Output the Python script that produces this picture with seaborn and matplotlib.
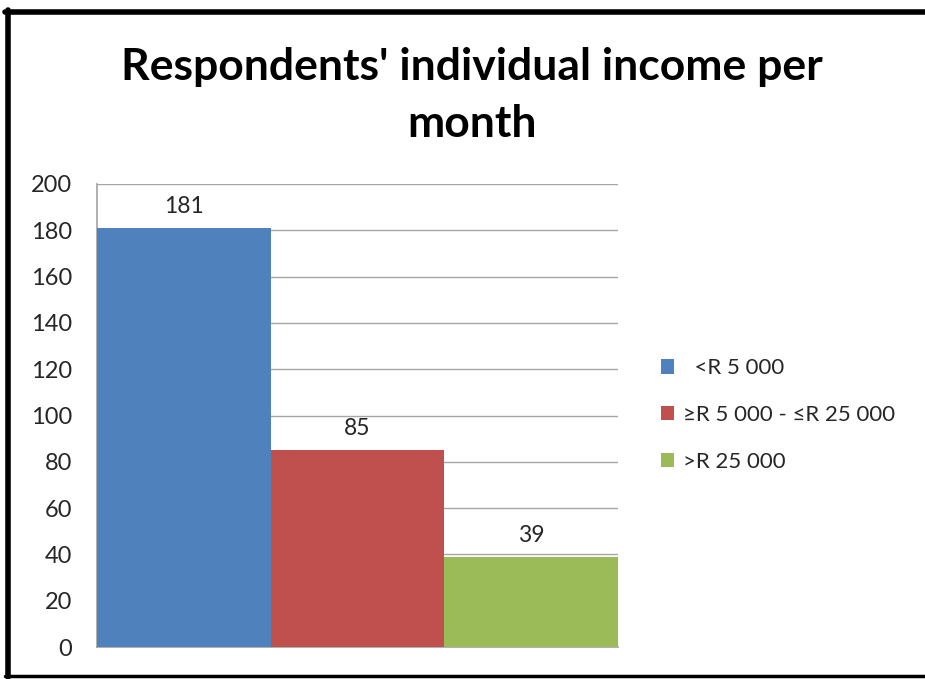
import matplotlib
matplotlib.use("Agg")
import matplotlib.pyplot as plt
from matplotlib.lines import Line2D
from matplotlib.patches import Patch
import seaborn as sns
import pandas as pd

categories = ["<R 5 000", "\u2265R 5 000 - \u2264R 25 000", ">R 25 000"]
counts = [181, 85, 39]
colors = ["#4F81BD", "#C0504D", "#9BBB59"]
y_ticks = [0, 20, 40, 60, 80, 100, 120, 140, 160, 180, 200]

df = pd.DataFrame({"group": ["all"] * 3, "income": categories, "count": counts})

sns.set_theme(style="white")
plt.rcParams["font.family"] = ["Lato", "DejaVu Sans"]

fig = plt.figure(figsize=(9.25, 6.79), dpi=100)
ax = fig.add_axes([97 / 925, 1 - 647 / 679, (618 - 97) / 925, (647 - 184) / 679])

sns.barplot(data=df, x="group", y="count", hue="income", hue_order=categories,
            palette=colors, width=1.0, dodge=True, saturation=1, ax=ax,
            legend=False, zorder=3, linewidth=0, edgecolor="none")

ax.set_ylim(0, 200)
ax.set_xlim(-0.5, 0.5)
ax.set_yticks(y_ticks)
ax.set_yticklabels([str(t) for t in y_ticks], fontsize=17, color="#262626")
ax.set_xticks([])
ax.set_xlabel("")
ax.set_ylabel("")
ax.tick_params(axis="y", length=0, pad=18)
ax.grid(axis="y", color="#A6A6A6", linewidth=1, zorder=0)
ax.set_axisbelow(True)
for side in ["top", "right"]:
    ax.spines[side].set_visible(False)
ax.spines["left"].set_color("#A6A6A6")
ax.spines["bottom"].set_color("#A6A6A6")

for container in ax.containers:
    ax.bar_label(container, fmt="%d", padding=8, fontsize=16.5, color="#262626")

handles = [Patch(facecolor=c, edgecolor="none") for c in colors]
leg = fig.legend(handles, ["  " + categories[0], categories[1], categories[2]],
                 loc="center left", bbox_to_anchor=(641 / 925, 1 - 415 / 679),
                 frameon=False, fontsize=16, handlelength=0.6, handleheight=0.6,
                 handletextpad=0.4, labelspacing=1.2, labelcolor="#262626")

fig.text(472 / 925, 1 - 67 / 679, "Respondents' individual income per",
         ha="center", va="center", fontsize=32, fontweight="bold", color="#000000")
fig.text(472 / 925, 1 - 124 / 679, "month",
         ha="center", va="center", fontsize=32, fontweight="bold", color="#000000")

# outer frame
fig.add_artist(Line2D([5 / 925, 1.0], [1 - 12 / 679] * 2, transform=fig.transFigure,
                      color="black", linewidth=4))
fig.add_artist(Line2D([8 / 925] * 2, [1 - 10 / 679, 1 - 677 / 679], transform=fig.transFigure,
                      color="black", linewidth=4))
fig.add_artist(Line2D([5 / 925, 1.0], [1 - 676 / 679] * 2, transform=fig.transFigure,
                      color="black", linewidth=2.5))

fig.savefig("out.png", dpi=100)
